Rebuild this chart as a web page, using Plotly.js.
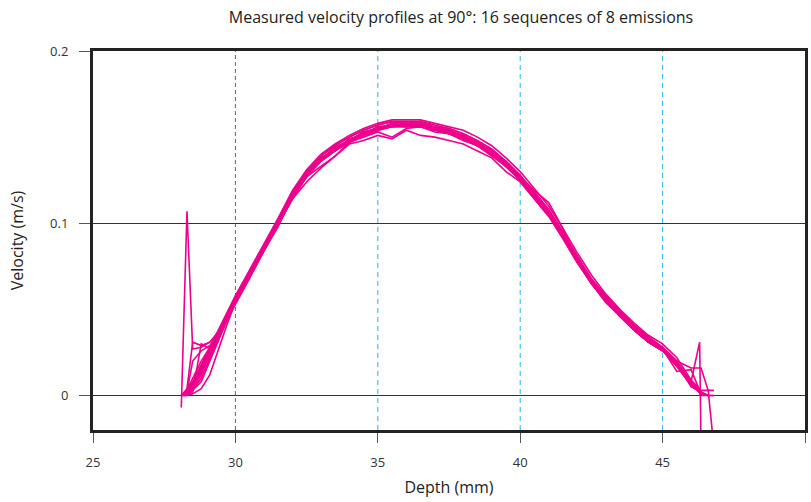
<!DOCTYPE html>
<html><head><meta charset="utf-8">
<script src="https://cdn.plot.ly/plotly-3.0.1.min.js"></script>
<style>html,body{margin:0;padding:0;background:#fff}</style>
</head><body><div id="chart" style="width:811px;height:502px"></div>
<script>
const depth = [28.1,28.3,28.5,28.8,29.1,29.4,29.7,30.0,30.5,31.0,31.5,32.0,32.5,33.0,33.5,34.0,34.5,35.0,35.5,36.0,36.5,37.0,37.5,38.0,38.5,39.0,39.5,40.0,40.5,41.0,41.5,42.0,42.5,43.0,43.5,44.0,44.5,45.0,45.5,46.0,46.3,46.35,46.6,46.8];

const seq01 = [0,.002,.007,.017,.027,.037,.047,.057,.072,.087,.102,.118,.130,.139,.145,.150,.154,.157,.159,.159,.159,.157,.155,.152,.148,.143,.136,.128,.118,.108,.095,.081,.068,.058,.049,.041,.034,.028,.019,.007,.002,.000,null,null];
const seq02 = [-.007,.107,.027,.028,.031,.037,.045,.054,.069,.084,.099,.114,.127,.136,.142,.147,.151,.154,.156,.156,.156,.154,.152,.149,.145,.140,.133,.125,.115,.105,.092,.078,.065,.055,.046,.038,.031,.026,.017,.006,.002,.001,.000,null];
const seq03 = [0,0,.001,.004,.012,.027,.041,.054,.071,.084,.101,.115,.129,.136,.144,.147,.153,.154,.158,.156,.158,.154,.154,.149,.147,.140,.135,.125,.117,.105,.094,.078,.067,.055,.048,.038,.033,.026,.019,.005,.003,.002,.000,.000];
const seq04 = [0,.004,.031,.029,.031,.036,.044,.055,.070,.086,.099,.117,.127,.138,.142,.149,.151,.156,.156,.158,.156,.156,.152,.151,.145,.142,.133,.127,.115,.107,.092,.080,.065,.057,.046,.040,.031,.028,.017,.008,.031,-.03,null,null];
const seq05 = [null,0,.003,.010,.022,.033,.044,.055,.070,.086,.100,.116,.129,.137,.144,.148,.153,.155,.158,.157,.158,.155,.154,.150,.147,.141,.135,.126,.117,.106,.094,.079,.067,.056,.048,.039,.033,.027,.019,.006,.003,.003,.003,-.03];
const seq06 = [0,.001,.005,.014,.024,.034,.044,.054,.069,.084,.099,.114,.124,.132,.139,.146,.148,.151,.149,.154,.151,.150,.148,.146,.142,.138,.130,.124,.114,.104,.091,.077,.065,.054,.046,.038,.031,.026,.018,.006,.002,.000,null,null];
const seq07 = [0,.003,.008,.018,.028,.038,.048,.058,.073,.088,.103,.119,.131,.140,.146,.151,.155,.158,.160,.160,.160,.158,.156,.154,.150,.145,.138,.130,.120,.110,.097,.083,.070,.059,.050,.042,.035,.030,.022,.009,.004,.002,.000,null];
const seq08 = [0,0,.002,.030,.027,.034,.044,.054,.070,.085,.100,.116,.128,.137,.143,.148,.152,.155,.156,.157,.157,.155,.153,.150,.146,.141,.134,.126,.116,.106,.093,.079,.066,.056,.047,.039,.032,.027,.014,.015,.003,.000,.000,null];
const seq09 = [0,.001,.003,.008,.020,.032,.043,.055,.069,.086,.099,.117,.127,.138,.142,.149,.151,.156,.156,.158,.156,.156,.152,.151,.145,.142,.133,.127,.119,.112,.097,.078,.067,.055,.048,.038,.033,.026,.019,.007,.002,.001,null,null];
const seq10 = [0,.002,.006,.016,.025,.036,.045,.056,.070,.086,.100,.117,.128,.138,.142,.149,.152,.156,.157,.156,.158,.155,.154,.150,.147,.141,.135,.126,.117,.106,.094,.079,.067,.056,.047,.040,.032,.027,.019,.007,.002,.000,null,null];
const seq11 = [0,.002,.006,.015,.026,.035,.046,.055,.071,.085,.101,.116,.129,.137,.144,.148,.153,.155,.157,.158,.157,.156,.154,.151,.147,.142,.136,.127,.118,.107,.094,.080,.067,.057,.048,.040,.033,.028,.020,.016,.016,.016,.003,.003];
const seq12 = [0,.003,.010,.020,.028,.036,.045,.054,.069,.084,.099,.115,.127,.133,.139,.147,.150,.153,.150,.155,.156,.153,.152,.148,.145,.139,.133,.125,.115,.105,.092,.078,.065,.055,.046,.038,.031,.026,.017,.006,.002,.000,null,null];
const seq13 = [0,.001,.004,.012,.024,.034,.045,.055,.070,.085,.100,.116,.128,.137,.143,.148,.152,.155,.157,.157,.157,.155,.153,.150,.146,.141,.134,.126,.116,.106,.093,.079,.066,.056,.047,.039,.032,.027,.018,.006,.002,.001,.000,.000];
const seq14 = [0,.002,.020,.026,.029,.036,.046,.056,.072,.086,.101,.117,.129,.139,.145,.150,.154,.157,.159,.158,.159,.156,.155,.152,.148,.143,.136,.127,.118,.108,.095,.081,.067,.057,.049,.040,.034,.028,.020,.008,.003,.002,.000,null];
const seq15 = [0,.002,.006,.015,.025,.035,.045,.055,.070,.085,.100,.116,.128,.137,.143,.148,.152,.155,.157,.157,.157,.155,.153,.150,.146,.141,.134,.126,.116,.106,.093,.079,.066,.056,.047,.039,.032,.027,.018,.006,.002,.001,.000,null];
const seq16 = [0,.001,.005,.013,.023,.034,.044,.053,.068,.084,.098,.115,.127,.136,.142,.147,.151,.154,.156,.156,.156,.154,.152,.149,.145,.140,.133,.125,.115,.105,.092,.078,.065,.055,.046,.038,.031,.026,.018,.006,.002,.001,.000,null];

const sequences = [seq01,seq02,seq03,seq04,seq05,seq06,seq07,seq08,seq09,seq10,seq11,seq12,seq13,seq14,seq15,seq16];
const xTicks = [25,30,35,40,45,50];
const yTicks = [0,0.1,0.2];
const yTickText = ['0','0.1','0.2'];
const gridDepths = [30,35,40,45];
const gridColors = ['#666666','#29B6E8','#29B6E8','#29B6E8'];

const traces = sequences.map(v => ({
  x: depth, y: v, type: 'scatter', mode: 'lines',
  line: {color: '#EC008C', width: 1.6}, connectgaps: false,
  hoverinfo: 'skip', showlegend: false
}));

const shapes = gridDepths.map((d,i) => ({
  type: 'line', xref: 'x', yref: 'paper', x0: d, x1: d, y0: 0, y1: 1,
  line: {color: gridColors[i], width: 1, dash: (i===0?'4px,3px':'5px,4px')}, layer: 'below'
}));

const fnt = '"Open Sans", "Noto Sans", sans-serif';
const layout = {
  width: 811, height: 502,
  margin: {l: 93, r: 6, t: 51, b: 72},
  paper_bgcolor: '#fff', plot_bgcolor: '#fff',
  title: {text: 'Measured velocity profiles at 90°: 16 sequences of 8 emissions',
          x: 461/811, xanchor: 'center', xref: 'container', y: 1-17/502, yanchor: 'middle',
          font: {family: fnt, size: 16, color: '#222'}},
  xaxis: {range: [25,50], tickvals: xTicks, ticktext: xTicks.map(String),
          ticks: 'outside', ticklen: 10, tickcolor: '#555', tickwidth: 1,
          ticklabelstandoff: 8,
          showline: true, linecolor: '#222', linewidth: 3, mirror: true,
          showgrid: false, zeroline: false,
          tickfont: {family: fnt, size: 13, color: '#333'},
          title: {text: 'Depth (mm)', font: {family: fnt, size: 16, color: '#222'}, standoff: 13}},
  yaxis: {range: [-0.02,0.2], tickvals: yTicks, ticktext: yTickText,
          ticks: 'outside', ticklen: 11, tickcolor: '#555', tickwidth: 1,
          ticklabelstandoff: 8,
          showline: true, linecolor: '#222', linewidth: 3, mirror: true,
          showgrid: true, gridcolor: '#333', gridwidth: 1, zeroline: false,
          tickfont: {family: fnt, size: 13, color: '#333'},
          title: {text: 'Velocity (m/s)', font: {family: fnt, size: 16, color: '#222'}, standoff: 23}},
  shapes: shapes
};
Plotly.newPlot('chart', traces, layout, {displayModeBar: false, staticPlot: true});
</script></body></html>
